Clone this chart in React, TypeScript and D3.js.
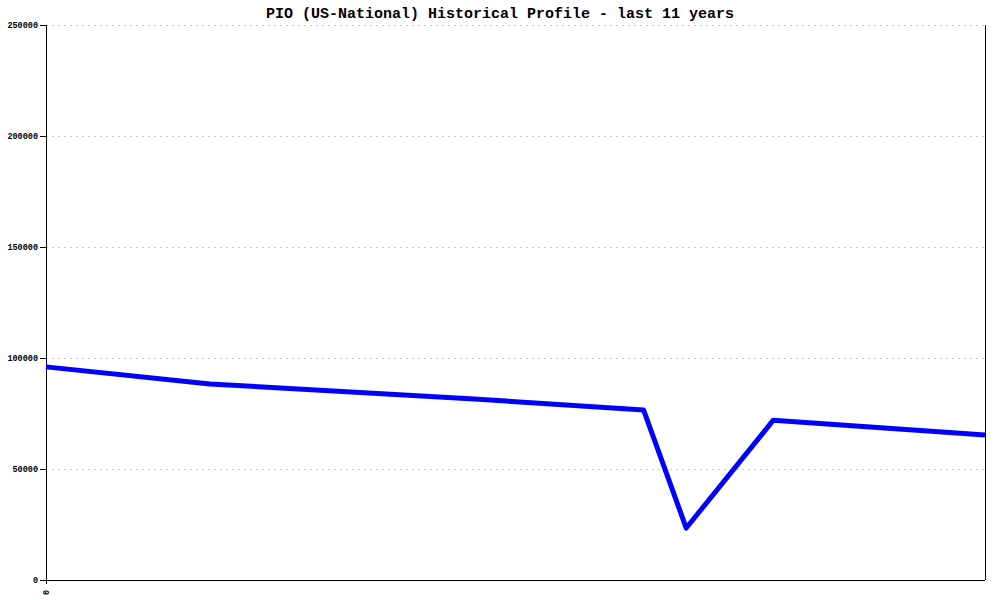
import React from "react";
import * as d3 from "d3";

const TITLE = "PIO (US-National) Historical Profile - last 11 years";
const years = [0, 1.92, 5.02, 7.0, 7.5, 8.52, 11];
const values = [96000, 88300, 81500, 76600, 23400, 72000, 65300];
const yTicks = [0, 50000, 100000, 150000, 200000, 250000];
const xTickLabels = ["0"];

export default function App() {
  const W = 1000, H = 600;
  const left = 46, right = 985, top = 25, bottom = 580;
  const x = d3.scaleLinear().domain([0, 11]).range([left, right]);
  const y = d3.scaleLinear().domain([0, 250000]).range([bottom, top]);
  const pts = years.map((yr, i) => [yr, values[i]] as [number, number]);
  const line = d3.line<[number, number]>().x(d => x(d[0])).y(d => y(d[1]));
  const font = "'Liberation Mono', 'DejaVu Sans Mono', monospace";
  return (
    <svg width={W} height={H} style={{ position: "absolute", left: 0, top: 0, background: "#fff" }}>
      <text x={500} y={18} textAnchor="middle" fontFamily={font} fontSize={15} fontWeight="bold" fill="#000">{TITLE}</text>
      {yTicks.map(t => (
        <g key={t}>
          {t > 0 && <line x1={left} x2={right} y1={y(t) + 0.5} y2={y(t) + 0.5} stroke="#c8c8c8" strokeDasharray="2,4" />}
          <line x1={left - 6} x2={left} y1={y(t) + 0.5} y2={y(t) + 0.5} stroke="#000" />
          <text x={left - 8} y={y(t) + 3} textAnchor="end" fontFamily={font} fontSize={8.5} fontWeight="bold" fill="#000">{t}</text>
        </g>
      ))}
      <line x1={left + 0.5} x2={left + 0.5} y1={top} y2={bottom + 4} stroke="#000" />
      <line x1={right + 0.5} x2={right + 0.5} y1={top} y2={bottom} stroke="#000" />
      <line x1={left} x2={right} y1={bottom + 0.5} y2={bottom + 0.5} stroke="#000" />
      {xTickLabels.map((l, i) => (
        <text key={i} transform={`translate(${x(i) + 3},${bottom + 10}) rotate(-90)`} textAnchor="end" fontFamily={font} fontSize={8.5} fontWeight="bold" fill="#000">{l}</text>
      ))}
      <path d={line(pts) || ""} fill="none" stroke="#0000ff" strokeWidth={5} strokeLinejoin="round" />
    </svg>
  );
}
